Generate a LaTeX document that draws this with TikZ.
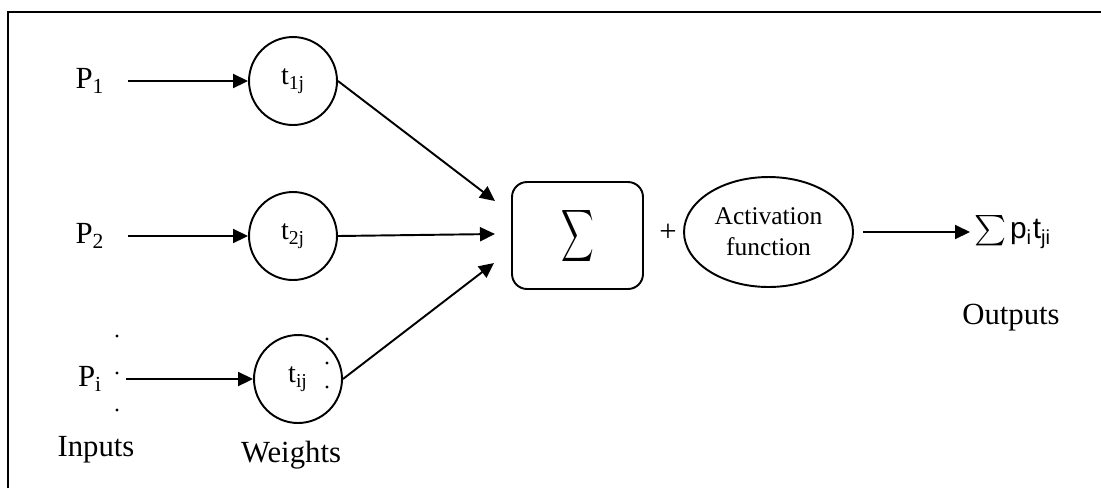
\documentclass[tikz,border=0pt]{standalone}
\usepackage{exscale}
\usepackage{fontspec}
\setmainfont{Liberation Serif}
\newfontfamily\arialfont{Liberation Sans}
\usetikzlibrary{arrows.meta,positioning,shapes.geometric}

\begin{document}
\begin{tikzpicture}[x=0.02cm, y=-0.02cm, line width=1.1pt,
	lbl/.style={font=\fontsize{17.5}{20}\selectfont},
	weight/.style={circle,draw,minimum size=1.76cm,inner sep=0pt,font=\fontsize{16}{18}\selectfont},
	sumbox/.style={draw,rounded corners=0.3cm,minimum width=2.62cm,minimum height=2.14cm},
	actfun/.style={ellipse,draw,minimum width=3.38cm,minimum height=2.2cm,inner sep=0pt,align=center,font=\fontsize{14.5}{17.6}\selectfont},
	arr/.style={-{Triangle[length=0.3cm,width=0.28cm]}}]
	\useasboundingbox (0,0) rectangle (1101,488);
	% frame (only top and left edge show)
	\draw (8,488) -- (8,12) -- (1101,12);
	% inputs
	\node[lbl] (p1) at (90,81) {P\textsubscript{1}};
	\node[lbl] (p2) at (90,236) {P\textsubscript{2}};
	\node[lbl] (pi) at (90,379) {P\textsubscript{i}};
	\foreach \y in {336,373,410} \fill (117,\y) circle[radius=0.9pt];
	\node[lbl] (inputs) at (96,450) {Inputs};
	% weights
	\node[weight] (t1) at (293,81) {t\textsubscript{1j}};
	\node[weight] (t2) at (293,236) {t\textsubscript{2j}};
	\node[weight] (ti) at (298,379) {t\textsubscript{ij}};
	\foreach \y in {339,363,387} \fill (327,\y) circle[radius=0.9pt];
	\node[lbl] (weights) at (291,455) {Weights};
	% sum and activation
	\node[sumbox] (sum) at (577.5,235.5) {\scalebox{0.62}[1]{\fontsize{20.74}{25}\selectfont$\displaystyle\sum$}};
	\node[lbl] (plus) at (668,233) {+};
	\node[actfun] (act) at (768.5,232) {Activation\\function};
	\coordinate (in1) at (495,201);
	\coordinate (in2) at (495,234);
	\coordinate (in3) at (494,263);
	% output
	\coordinate (outtip) at (970,232);
	\node[right=0pt of outtip, inner sep=2pt] (outtxt) {{\fontsize{17.28}{20}\selectfont$\sum$}\kern2pt{\arialfont\fontsize{17}{20}\selectfont p\raisebox{-3.5pt}{\fontsize{11.5}{13}\selectfont i}\kern1pt t\raisebox{-3.5pt}{\fontsize{11.5}{13}\selectfont ji}}};
	\node[lbl] (outputs) at (1011,318) {Outputs};
	% arrows
	\draw[arr, shorten <=0.34cm] (p1) -- (t1);
	\draw[arr, shorten <=0.34cm] (p2) -- (t2);
	\draw[arr, shorten <=0.34cm] (pi) -- (ti);
	\draw[arr] (t1.east) -- (in1);
	\draw[arr] (t2.east) -- (in2);
	\draw[arr] (ti.east) -- (in3);
	\draw[arr, shorten <=0.18cm] (act) -- (outtip);
\end{tikzpicture}
\end{document}
